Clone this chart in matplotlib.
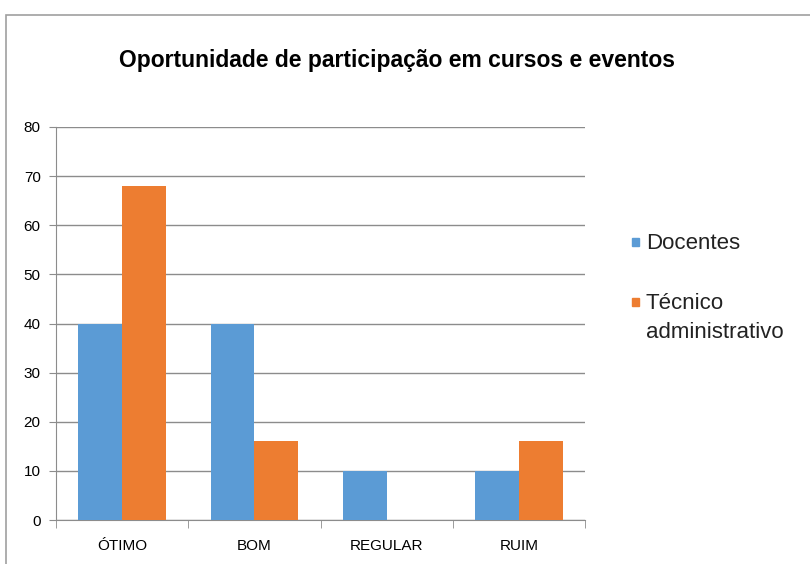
import numpy as np
import matplotlib
matplotlib.use('Agg')
import matplotlib.pyplot as plt
from matplotlib.patches import Rectangle

plt.rcParams['font.family'] = ['Liberation Sans', 'DejaVu Sans']

categorias = ['ÓTIMO', 'BOM', 'REGULAR', 'RUIM']
docentes = [40, 40, 10, 10]
tecnicos = [68, 16, 0, 16]
series = ['Docentes', 'Técnico\nadministrativo']
azul = '#5B9BD5'
laranja = '#ED7D31'
cores = [azul, laranja]

fig = plt.figure(figsize=(8.1, 5.64), dpi=100)
ax = fig.add_axes([56/810, 1-520/564, (585-56)/810, (520-127)/564])

# moldura do grafico (cortada a direita e embaixo)
fig.patches.append(Rectangle((5.5/810, -0.1), 1.2, 1 - 15/564 + 0.1,
                             transform=fig.transFigure, fill=False,
                             edgecolor='#A0A0A0', linewidth=1.2, clip_on=False))

x = np.arange(len(categorias))
w = 0.33
ax.bar(x - w/2, docentes, w, color=azul, zorder=3)
ax.bar(x + w/2, tecnicos, w, color=laranja, zorder=3)

ax.set_xlim(-0.5, len(categorias) - 0.5)
ax.set_ylim(0, 80)
ax.set_yticks(range(0, 81, 10))
ax.yaxis.grid(True, color='#8C8C8C', linewidth=1, zorder=0)
ax.set_xticks(x)
ax.set_xticklabels(categorias)
ax.set_xticks(np.arange(-0.5, len(categorias), 1), minor=True)
ax.tick_params(axis='x', which='major', length=0, pad=14, labelsize=11)
ax.tick_params(axis='x', which='minor', length=6, color='#8C8C8C')
ax.tick_params(axis='y', length=5, color='#8C8C8C', labelsize=11, pad=6)
for s in ['top', 'right']:
    ax.spines[s].set_visible(False)
for s in ['left', 'bottom']:
    ax.spines[s].set_color('#8C8C8C')

fig.text(397/810, 1-61/564, 'Oportunidade de participação em cursos e eventos',
         ha='center', va='center', fontsize=16.5, fontweight='bold')

# legenda feita a mao: quadrado alinhado com a primeira linha do rotulo
leg_y = [242, 302]
for nome, cor, yy in zip(series, cores, leg_y):
    fig.patches.append(Rectangle((632/810, 1-(yy+4)/564), 7/810, 8/564,
                                 transform=fig.transFigure, color=cor))
    fig.text(646/810, 1-(yy-9)/564, nome, ha='left', va='top',
             fontsize=16, linespacing=1.5, color='#222222')

fig.savefig('out.png', dpi=100)
